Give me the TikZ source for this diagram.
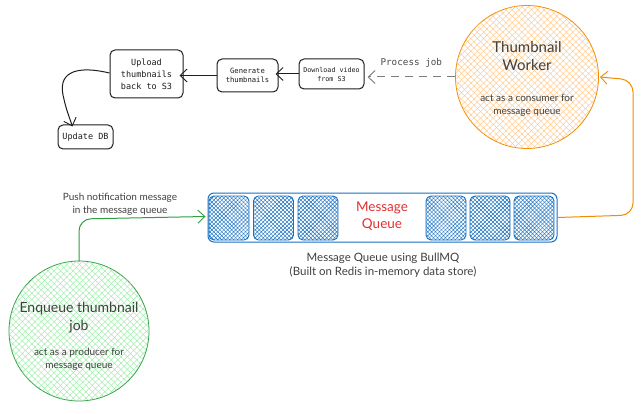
\documentclass[tikz,border=0pt]{standalone}
\usepackage{fontspec}
\setmainfont{Lato}
\newfontfamily\monofont{DejaVu Sans Mono}
\usetikzlibrary{arrows.meta,patterns.meta}
\definecolor{ink}{HTML}{1E1E1E}
\definecolor{orng}{HTML}{F08C00}
\definecolor{orngl}{HTML}{FFC078}
\definecolor{grn}{HTML}{2F9E44}
\definecolor{grnl}{HTML}{8CE99A}
\definecolor{blu}{HTML}{1971C2}
\definecolor{redt}{HTML}{E03131}
\definecolor{gry}{HTML}{7B7B7B}
\tikzset{
  x=1pt, y=-1pt,
  stepbox/.style={draw=ink, line width=1pt, rounded corners=5pt, inner sep=1pt, align=center, text=ink},
  hatch/.style n args={3}{postaction={pattern={Lines[angle=45,distance=#2,line width=#3]}, pattern color=#1},
                       postaction={pattern={Lines[angle=-45,distance=#2,line width=#3]}, pattern color=#1}},
  bigcircle/.style={circle, line width=0.8pt, inner sep=0pt},
  barb/.style={-{Straight Barb[length=7pt,width=13pt,line width=0.9pt]}},
  cell/.style={draw=blu, line width=0.9pt, rounded corners=5pt, minimum width=40pt, minimum height=44pt, inner sep=0pt, hatch={blu}{2.8pt}{0.45pt}},
  lbl/.style={text=ink!85, align=center, inner sep=0pt},
}
\begin{document}
\begin{tikzpicture}
\useasboundingbox[fill=white] (0,0) rectangle (644,414);

% pipeline boxes
\node[stepbox, minimum width=73pt, minimum height=48pt, font=\monofont\fontsize{8.5}{12}\selectfont] (upload) at (146.5,74) {Upload\\thumbnails\\back to S3};
\node[stepbox, minimum width=61pt, minimum height=33pt, font=\monofont\fontsize{7.2}{9.5}\selectfont] (generate) at (247.5,75.5) {Generate\\thumbnails};
\node[stepbox, minimum width=65pt, minimum height=30pt, font=\monofont\fontsize{6.7}{9}\selectfont] (download) at (331.5,74) {Download video\\from S3};
\node[stepbox, minimum width=55pt, minimum height=24pt, font=\monofont\fontsize{8.5}{10}\selectfont] (updatedb) at (85.5,137) {Update DB};

\draw[barb, ink, line width=1pt] (generate.west) -- ([xshift=-4pt]upload.east |- generate.west);
\draw[barb, ink, line width=1pt] (download.west) -- ([xshift=-3pt]generate.east |- download.west);
\draw[barb, ink, line width=1pt] ([yshift=1pt]upload.west) .. controls (80,66) and (58,70) .. (63,95) .. controls (66,108) .. ([xshift=-13pt,yshift=-2pt]updatedb.north);

% Thumbnail worker
\node[bigcircle, draw=orng, minimum size=143pt, hatch={orngl}{4.5pt}{0.35pt}] (worker) at (527,77) {};
\node[lbl, font=\fontsize{15}{18}\selectfont] (wtitle) at (527,56) {Thumbnail\\Worker};
\node[lbl, font=\fontsize{10}{13}\selectfont] (wsub) at (527,105) {act as a consumer for\\message queue};

\draw[barb, gry, line width=1pt, dash pattern=on 8pt off 6pt] (worker.west) -- ([xshift=3pt]download.east |- worker.west)
  node[pos=0.5, above=9pt, text=ink!80, font=\monofont\fontsize{9.3}{11}\selectfont, inner sep=0pt] (plabel) {Process job};

% Message queue
\node[draw=blu, line width=1pt, rounded corners=6pt, minimum width=349pt, minimum height=49pt, inner sep=0pt] (queue) at (382.5,217.5) {};
\node[cell] (c1) at (229,218) {};
\node[cell] (c2) at (273.5,218) {};
\node[cell] (c3) at (318,218) {};
\node[cell] (c4) at (446,218) {};
\node[cell] (c5) at (490,218) {};
\node[cell] (c6) at (534,218) {};
\node[lbl, text=redt, font=\fontsize{13.5}{17}\selectfont] (qname) at (382,216) {Message\\Queue};
\node[lbl, font=\fontsize{11.5}{14}\selectfont] (qcap) at (383,265) {Message Queue using BullMQ\\(Built on Redis in-memory data store)};

% Enqueue
\node[bigcircle, draw=grn, minimum size=140pt, hatch={grnl}{4.5pt}{0.35pt}] (enq) at (79,331) {};
\node[lbl, font=\fontsize{14}{18}\selectfont] (etitle) at (79,318) {Enqueue thumbnail\\job};
\node[lbl, font=\fontsize{10}{13}\selectfont] (esub) at (79,359.5) {act as a producer for\\message queue};

% green arrow
\draw[barb, grn, line width=1pt, rounded corners=12pt] ([yshift=-1pt]enq.north) -- (79,219) -- ([xshift=-2pt,yshift=1pt]queue.west);
\node[lbl, font=\fontsize{10}{13}\selectfont] (plbl) at (120,204) {Push notification message\\in the message queue};

% orange arrow
\draw[barb, orng, line width=1pt, rounded corners=12pt] (queue.east) -- (633,215) -- (633,80) -- ([xshift=1pt]worker.east);
\end{tikzpicture}
\end{document}
